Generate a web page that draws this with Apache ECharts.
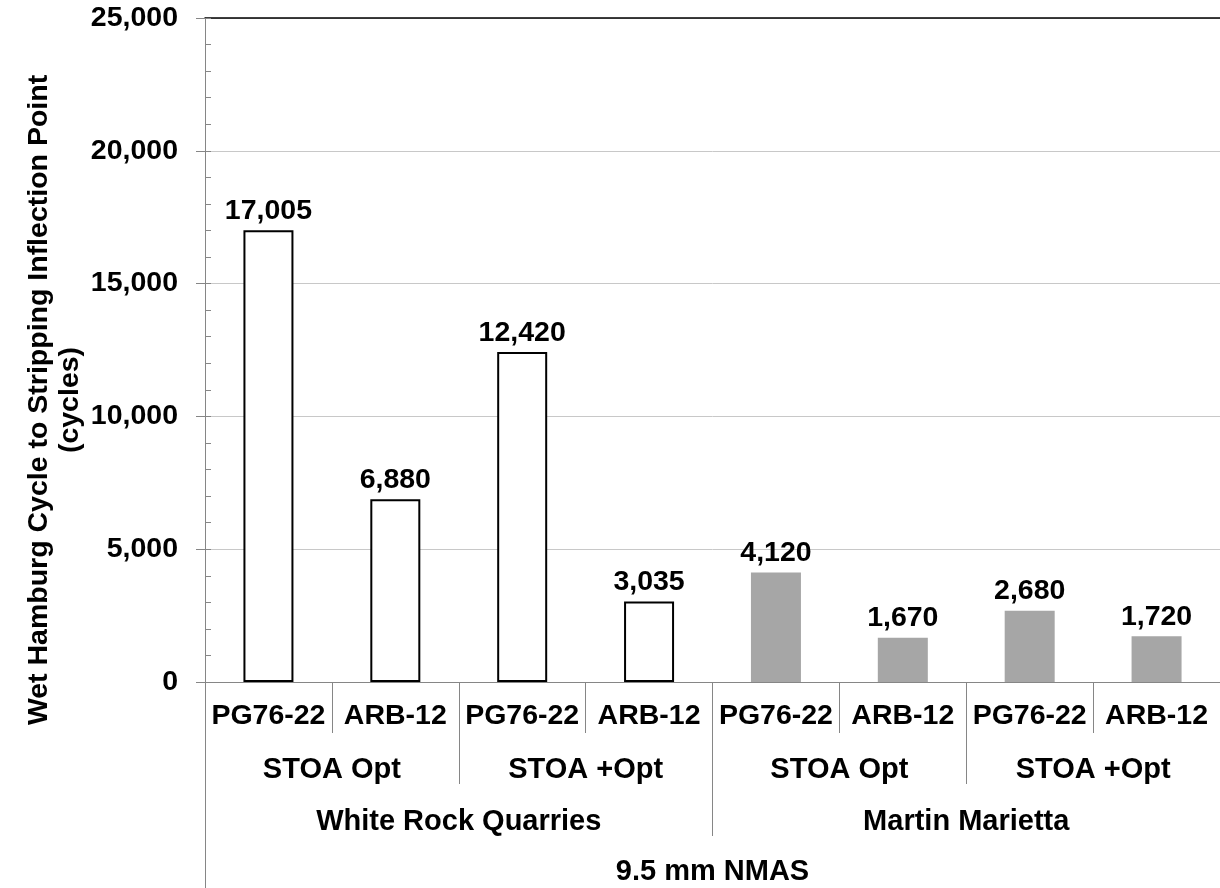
<!DOCTYPE html>
<html>
<head>
<meta charset="utf-8">
<script src="https://cdn.jsdelivr.net/npm/echarts@6/dist/echarts.min.js"></script>
<style>
html,body{margin:0;padding:0;background:#fff;}
#chart{width:1220px;height:888px;}
</style>
</head>
<body>
<div id="chart"></div>
<script>
// ---- data ----
const binders = ['PG76-22', 'ARB-12', 'PG76-22', 'ARB-12', 'PG76-22', 'ARB-12', 'PG76-22', 'ARB-12'];
const designs = ['STOA Opt', 'STOA +Opt', 'STOA Opt', 'STOA +Opt'];
const quarries = ['White Rock Quarries', 'Martin Marietta'];
const nmas = ['9.5 mm NMAS'];
const cycles = [17005, 6880, 12420, 3035, 4120, 1670, 2680, 1720];
const quarryIndex = [0, 0, 0, 0, 1, 1, 1, 1];
const yTicks = [0, 5000, 10000, 15000, 20000, 25000];

// ---- styles ----
const FONT = "'Liberation Sans', Arial, Helvetica, sans-serif";
const quarryStyles = [
  { color: '#ffffff', borderColor: '#000000', borderWidth: 2 },
  { color: '#a6a6a6', borderColor: '#a6a6a6', borderWidth: 0 }
];
const AXIS_GRAY = '#868686';
const fmt = v => Number(v).toLocaleString('en-US');

const chart = echarts.init(document.getElementById('chart'), null, { renderer: 'canvas' });

function txt(size) {
  return { fontFamily: FONT, fontWeight: 'bold', fontSize: size, color: '#000', lineHeight: size };
}

function levelAxis(data, tickLen, margin, size) {
  return {
    type: 'category',
    position: 'bottom',
    gridIndex: 0,
    data: data,
    boundaryGap: true,
    axisLine: { show: true, lineStyle: { color: AXIS_GRAY, width: 1 } },
    axisTick: { show: true, alignWithLabel: false, interval: 0, length: tickLen, lineStyle: { color: AXIS_GRAY, width: 1 } },
    axisLabel: Object.assign({ interval: 0, margin: margin }, txt(size)),
    splitLine: { show: false }
  };
}

const option = {
  backgroundColor: '#ffffff',
  animation: false,
  grid: { left: 205, right: 0, top: 18, bottom: 206, containLabel: false, outerBoundsMode: 'none' },
  xAxis: [
    levelAxis(binders, 51, 20, 28.5),
    levelAxis(designs, 102, 73, 29),
    levelAxis(quarries, 154, 125, 29),
    levelAxis(nmas, 206, 175, 29),
    {
      type: 'category', position: 'top', gridIndex: 0, data: binders,
      axisLine: { show: true, lineStyle: { color: '#000', width: 1.5 } },
      axisTick: { show: false }, axisLabel: { show: false }, splitLine: { show: false }
    }
  ],
  yAxis: [
    {
      type: 'value', min: 0, max: 25000, interval: 5000, position: 'left',
      name: 'Wet Hamburg Cycle to Stripping Inflection Point\n(cycles)',
      nameLocation: 'middle', nameGap: 119, nameRotate: 90, nameMoveOverlap: false,
      nameTextStyle: { fontFamily: FONT, fontWeight: 'bold', fontSize: 28.5, color: '#000', lineHeight: 31, align: 'center', padding: [0, 100, 0, 0] },
      axisLine: { show: true, lineStyle: { color: AXIS_GRAY, width: 1 } },
      axisTick: { show: true, inside: false, length: 9, lineStyle: { color: AXIS_GRAY } },
      axisLabel: Object.assign({ margin: 27, formatter: v => yTicks.indexOf(v) >= 0 ? fmt(v) : '' }, txt(28.5)),
      splitLine: { show: true, lineStyle: { color: '#c8c8c8', width: 1 } }
    },
    {
      type: 'value', min: 0, max: 25000, interval: 5000, position: 'left',
      axisLine: { show: false },
      axisTick: { show: true, inside: true, length: 6, lineStyle: { color: AXIS_GRAY } },
      minorTick: { show: true, splitNumber: 5, length: 6, lineStyle: { color: AXIS_GRAY } },
      axisLabel: { show: false },
      splitLine: { show: false }
    }
  ],
  series: [
    {
      type: 'bar',
      xAxisIndex: 0,
      yAxisIndex: 0,
      barWidth: 50,
      data: cycles.map((v, i) => ({ value: v, itemStyle: quarryStyles[quarryIndex[i]] })),
      label: Object.assign({ show: true, position: 'top', distance: 5, formatter: p => fmt(p.value) }, txt(28.5))
    }
  ]
};

chart.setOption(option);
</script>
</body>
</html>
